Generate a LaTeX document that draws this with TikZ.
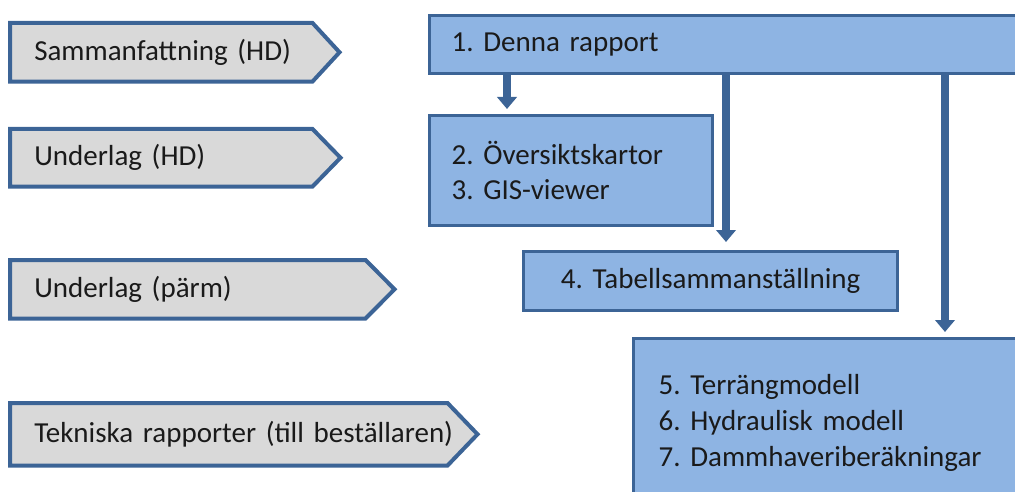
\documentclass[tikz,border=0pt]{standalone}
\usepackage{fontspec}
\setmainfont{Carlito}
\usetikzlibrary{arrows.meta,backgrounds}
\newlength\pxu
\setlength\pxu{0.75pt}
\definecolor{edge}{HTML}{3C6496}
\definecolor{grayfill}{HTML}{D9D9D9}
\definecolor{bluefill}{HTML}{8EB4E3}
\definecolor{txt}{HTML}{1A1A1A}
\begin{document}
\frenchspacing
\begin{tikzpicture}[x=0.75pt,y=-0.75pt,
  every node/.style={font=\fontsize{21.75}{26.25}\selectfont\frenchspacing, text=txt},
  pentbody/.style={anchor=north west, inner xsep=24\pxu, inner ysep=0pt, align=left},
  pentshape/.style={draw=edge, fill=grayfill, line width=3pt, line join=miter},
  bluebox/.style={draw=edge, fill=bluefill, line width=2.5pt, anchor=north west, inner ysep=0pt},
  conn/.style={draw=edge, line width=6pt, -{Triangle[width=14.5pt,length=9pt]}}
]
\useasboundingbox (0,0) rectangle (1015,492);
\clip (0,0) rectangle (1015,492);

% left pentagons
\node[pentbody, text width=281\pxu, minimum height=58\pxu] (p1) at (10,23) {Sammanfattning (HD)};
\node[pentbody, text width=282\pxu, minimum height=57\pxu] (p2) at (10,129) {Underlag (HD)};
\node[pentbody, text width=336\pxu, minimum height=58\pxu] (p3) at (10,260) {Underlag (pärm)};
\node[pentbody, text width=419\pxu, minimum height=62\pxu] (p4) at (10,403) {Tekniska rapporter (till beställaren)};
\begin{pgfonlayer}{background}
\draw[pentshape] (p1.north west) -- ([xshift=-27\pxu]p1.north east) -- (p1.east) -- ([xshift=-27\pxu]p1.south east) -- (p1.south west) -- cycle;
\draw[pentshape] (p2.north west) -- ([xshift=-28\pxu]p2.north east) -- (p2.east) -- ([xshift=-28\pxu]p2.south east) -- (p2.south west) -- cycle;
\draw[pentshape] (p3.north west) -- ([xshift=-29\pxu]p3.north east) -- (p3.east) -- ([xshift=-29\pxu]p3.south east) -- (p3.south west) -- cycle;
\draw[pentshape] (p4.north west) -- ([xshift=-30\pxu]p4.north east) -- (p4.east) -- ([xshift=-30\pxu]p4.south east) -- (p4.south west) -- cycle;
\end{pgfonlayer}

% blue boxes
\node[bluebox, inner xsep=22\pxu, text width=626\pxu, minimum height=58\pxu, align=left] (b1) at (428,14) {1. Denna rapport};
\node[bluebox, inner xsep=22\pxu, text width=239\pxu, minimum height=110\pxu, align=left] (b2) at (428,114) {2. Översiktskartor\\3. GIS-viewer};
\node[bluebox, inner xsep=0pt, text width=374\pxu, minimum height=59\pxu, align=center] (b4) at (522,250) {4. Tabellsammanställning};
\node[bluebox, inner xsep=25\pxu, text width=416\pxu, minimum height=169\pxu, align=left, font=\fontsize{21.75}{27}\selectfont\frenchspacing] (b5) at (632,337) {5. Terrängmodell\\6. Hydraulisk modell\\7. Dammhaveriberäkningar};

% connectors
\coordinate (c1) at ([xshift=79\pxu]b1.south west);
\coordinate (c2) at ([xshift=298\pxu]b1.south west);
\coordinate (c3) at ([xshift=517\pxu]b1.south west);
\draw[conn, shorten >=5\pxu] (c1) -- (c1 |- b2.north);
\draw[conn, shorten >=8\pxu] (c2) -- (c2 |- b4.north);
\draw[conn, shorten >=5\pxu] (c3) -- (c3 |- b5.north);
\end{tikzpicture}
\end{document}
